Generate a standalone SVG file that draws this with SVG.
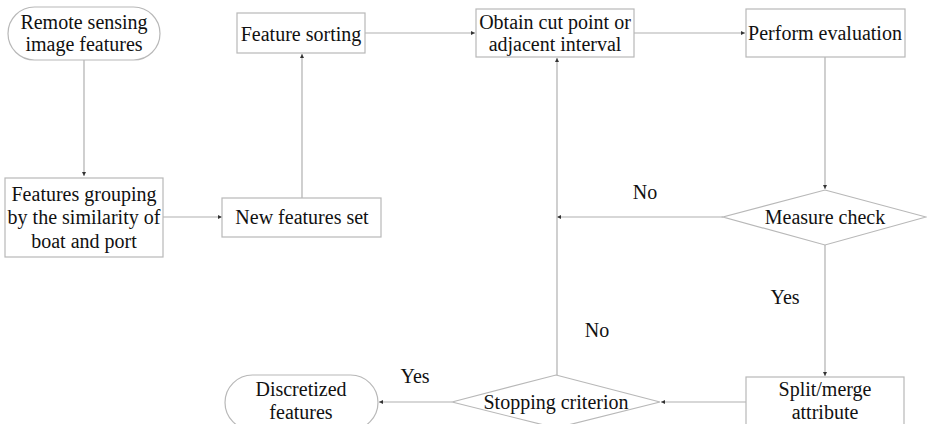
<svg xmlns="http://www.w3.org/2000/svg" width="927" height="424" viewBox="0 0 927 424">
<defs>
<marker id="ah" viewBox="0 0 6 6" refX="6" refY="3" markerWidth="4" markerHeight="4" orient="auto" markerUnits="userSpaceOnUse">
<path d="M0,0 L6,3 L0,6 z" fill="#333"/>
</marker>
</defs>
<style>
.shape{fill:#fff;stroke:#b8b8b8;stroke-width:1.2}
.edge{fill:none;stroke:#b0b0b0;stroke-width:1.2;marker-end:url(#ah)}
.t{font-size:20px;fill:#111;text-anchor:middle}
</style>
<rect width="927" height="424" fill="#fff"/>
<g id="connectors">
<path class="edge" d="M84,60 V176"/>
<path class="edge" d="M163,217 H222"/>
<path class="edge" d="M302,198 V54"/>
<path class="edge" d="M365,33 H475"/>
<path class="edge" d="M634,33 H745"/>
<path class="edge" d="M825,57 V189"/>
<path class="edge" d="M723,217 H557"/>
<path class="edge" d="M557,375 V58"/>
<path class="edge" d="M825,245 V376"/>
<path class="edge" d="M746,402 H661"/>
<path class="edge" d="M452,402 H379"/>
</g>
<g font-family="Liberation Serif, Times New Roman, Times, serif">
<g id="remote-sensing">
<rect class="shape" x="8" y="7" width="152" height="53" rx="26.5"/>
<text class="t" x="84" y="29">Remote sensing</text>
<text class="t" x="84" y="51">image features</text>
</g>
<g id="features-grouping">
<rect class="shape" x="5" y="178" width="158" height="79"/>
<text class="t" x="84" y="201">Features grouping</text>
<text class="t" x="84" y="224">by the similarity of</text>
<text class="t" x="84" y="248">boat and port</text>
</g>
<g id="new-features-set">
<rect class="shape" x="222" y="198" width="159" height="39"/>
<text class="t" x="302" y="224">New features set</text>
</g>
<g id="feature-sorting">
<rect class="shape" x="237" y="13" width="128" height="40"/>
<text class="t" x="301" y="41">Feature sorting</text>
</g>
<g id="obtain-cut-point">
<rect class="shape" x="476" y="9" width="158" height="48"/>
<text class="t" x="555" y="29">Obtain cut point or</text>
<text class="t" x="555" y="51">adjacent interval</text>
</g>
<g id="perform-evaluation">
<rect class="shape" x="746" y="9" width="159" height="48"/>
<text class="t" x="825" y="40">Perform evaluation</text>
</g>
<g id="measure-check">
<polygon class="shape" points="825,190 926,217 825,245 723,217"/>
<text class="t" x="825" y="224">Measure check</text>
</g>
<g id="label-no-1"><text class="t" x="645" y="199">No</text></g>
<g id="label-yes-1"><text class="t" x="785" y="304">Yes</text></g>
<g id="label-no-2"><text class="t" x="597" y="337">No</text></g>
<g id="label-yes-2"><text class="t" x="415" y="383">Yes</text></g>
<g id="split-merge">
<rect class="shape" x="746" y="377" width="158" height="52"/>
<text class="t" x="825" y="396">Split/merge</text>
<text class="t" x="825" y="419">attribute</text>
</g>
<g id="stopping-criterion">
<polygon class="shape" points="556,375 660,402 556,428 452,402"/>
<text class="t" x="556" y="409">Stopping criterion</text>
</g>
<g id="discretized-features">
<rect class="shape" x="225" y="375" width="153" height="55" rx="27.5"/>
<text class="t" x="301" y="396">Discretized</text>
<text class="t" x="301" y="419">features</text>
</g>
</g>
</svg>
